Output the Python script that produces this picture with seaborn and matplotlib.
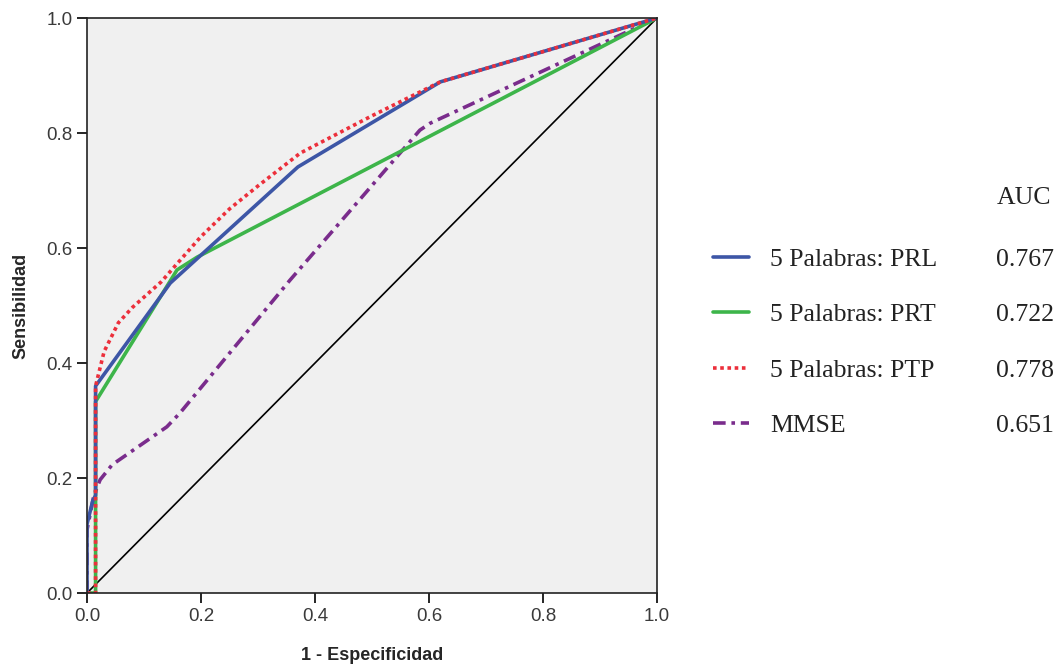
import matplotlib
matplotlib.use("Agg")
import matplotlib.pyplot as plt
import seaborn as sns
import pandas as pd

# ---- data ----
labels = ["5 Palabras: PRL", "5 Palabras: PRT", "5 Palabras: PTP", "MMSE"]
auc = ["0.767", "0.722", "0.778", "0.651"]

prl_x = [0.0, 0.0, 0.01, 0.015, 0.015, 0.146, 0.37, 0.62, 1.0]
prl_y = [0.0, 0.12, 0.16, 0.17, 0.36, 0.539, 0.741, 0.889, 1.0]

prt_x = [0.0, 0.015, 0.015, 0.158, 0.193, 1.0]
prt_y = [0.0, 0.0, 0.333, 0.562, 0.584, 1.0]

ptp_x = [0.0, 0.015, 0.015, 0.03, 0.055, 0.08, 0.13, 0.16, 0.2, 0.25, 0.3, 0.374, 0.5, 0.62, 1.0]
ptp_y = [0.0, 0.0, 0.36, 0.42, 0.47, 0.497, 0.541, 0.575, 0.62, 0.668, 0.708, 0.765, 0.83, 0.889, 1.0]

mmse_x = [0.0, 0.0, 0.012, 0.023, 0.044, 0.14, 0.163, 0.356, 0.584, 0.602, 1.0]
mmse_y = [0.0, 0.11, 0.17, 0.197, 0.223, 0.289, 0.313, 0.544, 0.805, 0.817, 1.0]

ref_x = [0.0, 1.0]
ref_y = [0.0, 1.0]

xticks = [0.0, 0.2, 0.4, 0.6, 0.8, 1.0]
yticks = [0.0, 0.2, 0.4, 0.6, 0.8, 1.0]

colors = ["#3D56A6", "#3DB54A", "#EC2F3B", "#7A2C8C"]

sns.set_style("ticks")
plt.rcParams["font.family"] = ["Liberation Sans", "DejaVu Sans"]

fig = plt.figure(figsize=(10.6, 6.7), dpi=100)
ax = fig.add_axes([0.0821, 0.1149, 0.5377, 0.8582])
ax.set_facecolor("#F0F0F0")

sns.lineplot(x=ref_x, y=ref_y, ax=ax, color="black", lw=1.2, sort=False, estimator=None)
series = [(prl_x, prl_y), (prt_x, prt_y), (ptp_x, ptp_y), (mmse_x, mmse_y)]
styles = [None, None, (0, (1.0, 1.0)), (0, (3.5, 1.6, 1.0, 1.6))]
order = [3, 1, 0, 2]
handles = {}
for i in order:
    xs, ys = series[i]
    sns.lineplot(x=xs, y=ys, ax=ax, color=colors[i], lw=2.6, sort=False, estimator=None)
    ln = ax.lines[-1]
    if styles[i] is not None:
        ln.set_linestyle(styles[i])
    handles[i] = ln

ax.set_xlim(0, 1)
ax.set_ylim(0, 1)
ax.set_xticks(xticks)
ax.set_yticks(yticks)
ax.set_xticklabels([f"{t:.1f}" for t in xticks])
ax.set_yticklabels([f"{t:.1f}" for t in yticks])
ax.tick_params(direction="out", length=7, width=1.2, colors="black", labelsize=13.5, labelcolor="#3a3a3a")
for s in ax.spines.values():
    s.set_visible(True)
    s.set_color("#222222")
    s.set_linewidth(1.2)
ax.set_xlabel("1 - Especificidad", fontsize=13, fontweight="bold", labelpad=16)
ax.set_ylabel("Sensibilidad", fontsize=13, fontweight="bold", labelpad=12)

leg = fig.legend([handles[i] for i in range(4)], labels, loc="upper left",
                 bbox_to_anchor=(0.673, 0.630), frameon=False,
                 prop={"family": ["Liberation Serif"], "size": 18.5},
                 handlelength=1.4, handletextpad=0.82, labelspacing=1.26,
                 borderpad=0.0, borderaxespad=0.0)

fig.canvas.draw()
inv = fig.transFigure.inverted()
for i, t in enumerate(leg.get_texts()):
    bb = t.get_window_extent()
    (_, y0), (_, y1) = inv.transform([(bb.x0, bb.y0), (bb.x1, bb.y1)])
    fig.text(0.994, (y0 + y1) / 2, auc[i], ha="right", va="center",
             family=["Liberation Serif"], fontsize=18.5, color="#222222")
    t.set_color("#222222")
fig.text(0.992, 0.704, "AUC", ha="right", va="center",
         family=["Liberation Serif"], fontsize=18.5, color="#222222")

fig.savefig("out.png", dpi=100, facecolor="white")
